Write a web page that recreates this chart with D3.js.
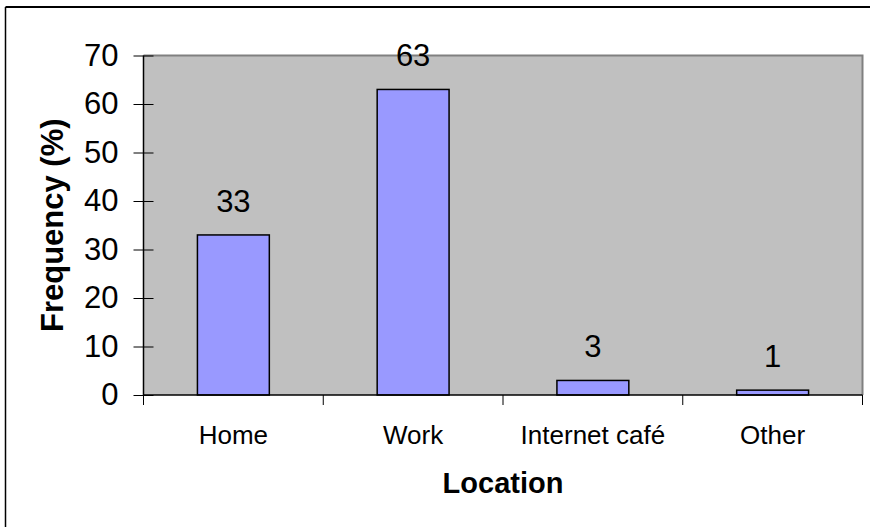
<!DOCTYPE html>
<html>
<head>
<meta charset="utf-8">
<script src="https://cdn.jsdelivr.net/npm/d3@7"></script>
<style>
  html, body { margin: 0; padding: 0; background: #fff; }
  svg { display: block; font-family: Arial, "Liberation Sans", sans-serif; }
</style>
</head>
<body>
<svg id="chart" width="870" height="527"></svg>
<script>
const categories = ["Home", "Work", "Internet café", "Other"];
const values = [33, 63, 3, 1];
const yTicks = [0, 10, 20, 30, 40, 50, 60, 70];
const xTitle = "Location";
const yTitle = "Frequency (%)";

const svg = d3.select("#chart");
const W = 870, H = 527;
const plot = { left: 143.5, right: 862.5, top: 55.5, bottom: 395 };

// outer chart border (top and left visible)
svg.append("line").attr("x1", 5.5).attr("y1", 7).attr("x2", W).attr("y2", 7)
  .attr("stroke", "#000").attr("stroke-width", 2);
svg.append("line").attr("x1", 5.5).attr("y1", 7).attr("x2", 5.5).attr("y2", H)
  .attr("stroke", "#000").attr("stroke-width", 1.5);

const x = d3.scaleBand().domain(categories).range([plot.left, plot.right]).paddingInner(0).paddingOuter(0);
const y = d3.scaleLinear().domain([0, 70]).range([plot.bottom, plot.top]);

// plot area
svg.append("rect").attr("x", plot.left).attr("y", plot.top)
  .attr("width", plot.right - plot.left).attr("height", plot.bottom - plot.top)
  .attr("fill", "#C0C0C0");
svg.append("path")
  .attr("d", `M${plot.left},${plot.top}H${plot.right}V${plot.bottom}`)
  .attr("fill", "none").attr("stroke", "#808080").attr("stroke-width", 2);

// bars
const bw = x.bandwidth() * 0.4;
svg.append("g").selectAll("rect").data(values).join("rect")
  .attr("x", (d, i) => x(categories[i]) + (x.bandwidth() - bw) / 2)
  .attr("y", d => y(d))
  .attr("width", bw)
  .attr("height", d => y(0) - y(d))
  .attr("fill", "#9999FF")
  .attr("stroke", "#000").attr("stroke-width", 1.5);

// value labels
svg.append("g").selectAll("text").data(values).join("text")
  .attr("x", (d, i) => x(categories[i]) + x.bandwidth() / 2)
  .attr("y", d => y(d) - 23)
  .attr("text-anchor", "middle")
  .attr("font-size", 31)
  .attr("fill", "#000")
  .text(d => d);

// y axis
const yAxis = d3.axisLeft(y).tickValues(yTicks).tickSize(0).tickPadding(0);
const gy = svg.append("g").attr("transform", `translate(${plot.left},0)`).call(yAxis);
gy.select(".domain").remove();
gy.selectAll(".tick text").attr("x", -25).attr("font-size", 31).attr("fill", "#000")
  .attr("font-family", "Arial, 'Liberation Sans', sans-serif");
gy.selectAll(".tick").append("line").attr("x1", -10).attr("x2", 10)
  .attr("stroke", "#000").attr("stroke-width", 1);
svg.append("line").attr("x1", plot.left).attr("x2", plot.left)
  .attr("y1", plot.top).attr("y2", plot.bottom).attr("stroke", "#000").attr("stroke-width", 1.5);

// x axis
const xAxis = d3.axisBottom(x).tickSize(0).tickPadding(0);
const gx = svg.append("g").attr("transform", `translate(0,${plot.bottom})`).call(xAxis);
gx.select(".domain").remove();
gx.selectAll(".tick text").attr("y", 49).attr("dy", 0).attr("font-size", 26).attr("fill", "#000")
  .attr("font-family", "Arial, 'Liberation Sans', sans-serif");
const bounds = categories.map(c => x(c)).concat([x(categories[categories.length - 1]) + x.bandwidth()]);
svg.append("g").selectAll("line").data(bounds).join("line")
  .attr("x1", d => d).attr("x2", d => d)
  .attr("y1", plot.bottom).attr("y2", plot.bottom + 10)
  .attr("stroke", "#000").attr("stroke-width", 1);
svg.append("line").attr("x1", plot.left).attr("x2", plot.right)
  .attr("y1", plot.bottom).attr("y2", plot.bottom).attr("stroke", "#000").attr("stroke-width", 1.5);

// axis titles
svg.append("text").attr("x", (plot.left + plot.right) / 2).attr("y", 493)
  .attr("text-anchor", "middle").attr("font-size", 29).attr("font-weight", "bold")
  .attr("fill", "#000").text(xTitle);
svg.append("text")
  .attr("transform", `translate(63,${(plot.top + plot.bottom) / 2}) rotate(-90)`)
  .attr("text-anchor", "middle").attr("font-size", 31).attr("font-weight", "bold")
  .attr("fill", "#000").text(yTitle);
</script>
</body>
</html>
